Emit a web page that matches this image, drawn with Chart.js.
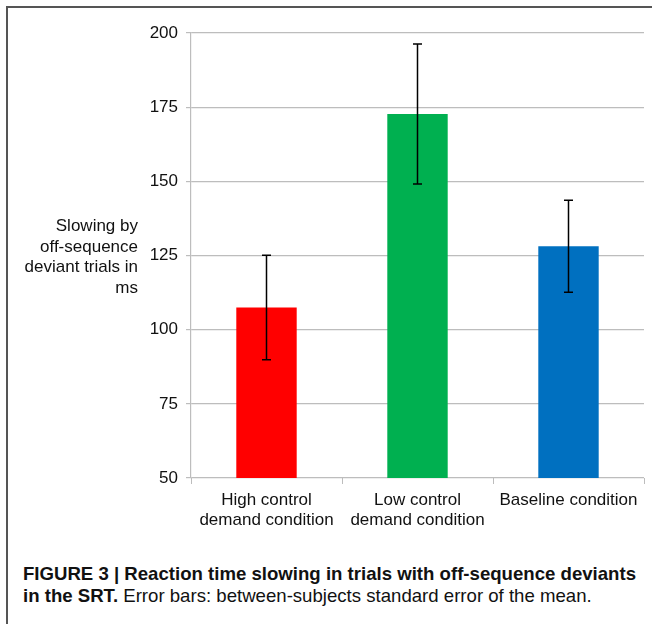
<!DOCTYPE html>
<html lang="en">
<head>
    <meta charset="UTF-8">
    <title>Figure 3 - Reaction time slowing</title>
    <script src="https://cdn.jsdelivr.net/npm/chart.js"></script>
    <style>
        body { margin: 0; background: #fff; font-family: "Liberation Sans", Arial, sans-serif; }
        #wrap { position: relative; width: 652px; height: 624px; overflow: hidden; }
        #frame { position: absolute; left: 6px; top: 6px; width: 700px; height: 700px;
                 border-left: 2px solid #555; border-top: 2px solid #555; }
        #myChart { position: absolute; left: 0; top: 0; }
        #ytitle { position: absolute; right: 514px; top: 216px; font-size: 17px; line-height: 20.5px;
                  text-align: right; color: #111; white-space: nowrap; }
        .cap { position: absolute; left: 23px; font-size: 19px; line-height: 22px; color: #111;
               white-space: nowrap; transform-origin: 0 0;
               font-family: "Liberation Sans Narrow", "Liberation Sans", Arial, sans-serif; }
        .cap b { font-weight: bold; }
    </style>
</head>
<body>
<div id="wrap">
    <div id="frame"></div>
    <canvas id="myChart" width="652" height="540"></canvas>
    <div id="ytitle">Slowing by<br>off-sequence<br>deviant trials in<br>ms</div>
    <div class="cap" id="cap1" style="top:563px"><b>FIGURE 3 | Reaction time slowing in trials with off-sequence deviants</b></div>
    <div class="cap" id="cap2" style="top:585px"><b>in the SRT.</b> Error bars: between-subjects standard error of the mean.</div>
</div>
<script>
    const categories = [['High control', 'demand condition'], ['Low control', 'demand condition'], 'Baseline condition'];
    const means = [107.5, 172.7, 128.1];
    const errors = [17.6, 23.6, 15.5];
    const barColors = ['#ff0000', '#00b050', '#0070c0'];
    const yTicks = [50, 75, 100, 125, 150, 175, 200];

    const errorBars = {
        id: 'errorBars',
        afterDatasetsDraw(chart) {
            const ctx = chart.ctx;
            const y = chart.scales.y;
            const meta = chart.getDatasetMeta(0);
            ctx.save();
            ctx.strokeStyle = '#000';
            ctx.lineWidth = 1.5;
            meta.data.forEach((bar, i) => {
                const top = y.getPixelForValue(means[i] + errors[i]);
                const bottom = y.getPixelForValue(means[i] - errors[i]);
                ctx.beginPath();
                ctx.moveTo(bar.x, top);
                ctx.lineTo(bar.x, bottom);
                ctx.moveTo(bar.x - 4.5, top);
                ctx.lineTo(bar.x + 4.5, top);
                ctx.moveTo(bar.x - 4.5, bottom);
                ctx.lineTo(bar.x + 4.5, bottom);
                ctx.stroke();
            });
            ctx.restore();
        }
    };

    const ctx = document.getElementById('myChart').getContext('2d');
    new Chart(ctx, {
        type: 'bar',
        data: {
            labels: categories,
            datasets: [{
                data: means,
                backgroundColor: barColors,
                categoryPercentage: 1,
                barPercentage: 0.4
            }]
        },
        options: {
            responsive: false,
            animation: false,
            layout: { padding: { top: 33, right: 8, left: 0, bottom: 0 } },
            plugins: { legend: { display: false }, tooltip: { enabled: false } },
            scales: {
                x: {
                    offset: true,
                    grid: { offset: true, drawOnChartArea: false, tickLength: 6, color: '#bdbdbd' },
                    border: { display: false },
                    ticks: { color: '#111', font: { family: 'Liberation Sans', size: 17 }, padding: 6, maxRotation: 0 },
                    afterFit(scale) { scale.height = 62; }
                },
                y: {
                    min: 50,
                    max: 200,
                    afterBuildTicks(scale) { scale.ticks = yTicks.map(v => ({ value: v })); },
                    grid: { color: '#bdbdbd', tickLength: 5, lineWidth: 1.2 },
                    border: { display: true, color: '#bdbdbd', width: 1.2 },
                    ticks: { color: '#111', font: { family: 'Liberation Sans', size: 17 }, padding: 8 },
                    afterFit(scale) { scale.width = 191; }
                }
            }
        },
        plugins: [errorBars]
    });

    // squeeze the caption to the printed width
    const cap1 = document.getElementById('cap1');
    const cap2 = document.getElementById('cap2');
    const s = 613 / cap1.getBoundingClientRect().width;
    cap1.style.transform = 'scaleX(' + s + ')';
    cap2.style.transform = 'scaleX(' + s + ')';
</script>
</body>
</html>
